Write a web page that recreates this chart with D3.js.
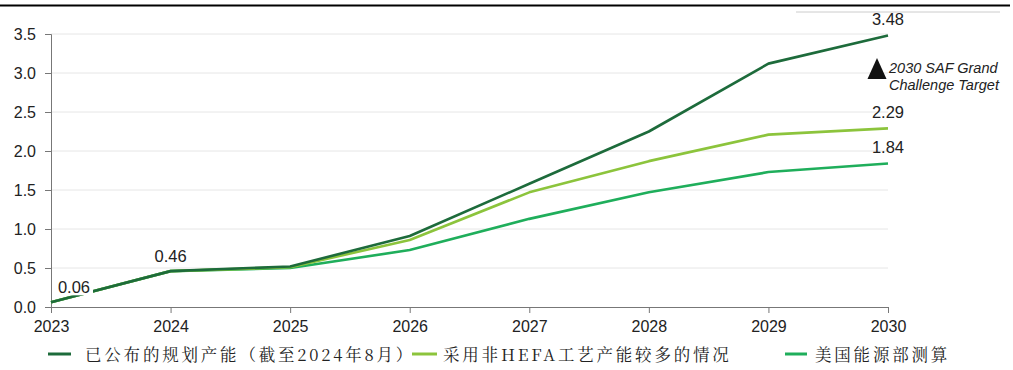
<!DOCTYPE html>
<html>
<head>
<meta charset="utf-8">
<script src="https://cdn.jsdelivr.net/npm/d3@7"></script>
<style>
  html, body { margin: 0; padding: 0; background: #fff; }
  svg { display: block; }
</style>
</head>
<body>
<svg id="chart" width="1013" height="370"></svg>
<script>
// Years on the x axis
const years = [2023, 2024, 2025, 2026, 2027, 2028, 2029, 2030];
// Announced planned capacity (as of Aug 2024)
const announced = [0.06, 0.46, 0.52, 0.91, 1.58, 2.25, 3.12, 3.48];
// Scenario with more non-HEFA process capacity
const nonHefa = [0.06, 0.46, 0.51, 0.86, 1.47, 1.87, 2.21, 2.29];
// US Department of Energy estimate
const doe = [0.06, 0.46, 0.50, 0.73, 1.13, 1.47, 1.73, 1.84];
const yTicks = [0.0, 0.5, 1.0, 1.5, 2.0, 2.5, 3.0, 3.5];
const seriesNames = ["已公布的规划产能（截至2024年8月）", "采用非HEFA工艺产能较多的情况", "美国能源部测算"];
const seriesColors = ["#1d6b3b", "#8cc43c", "#1fae5b"];
const seriesData = [announced, nonHefa, doe];

const svg = d3.select("#chart");
const plotL = 51, plotR = 888, plotT = 34, plotB = 307;

const x = d3.scaleLinear().domain([2023, 2030]).range([plotL, plotR]);
const y = d3.scaleLinear().domain([0, 3.5]).range([plotB, plotT]);

// top rule
svg.append("line").attr("x1", 0).attr("x2", 1010).attr("y1", 5.5).attr("y2", 5.5)
  .attr("stroke", "#000").attr("stroke-width", 2);
svg.append("line").attr("x1", 796).attr("x2", 1000).attr("y1", 12).attr("y2", 12)
  .attr("stroke", "#ccc").attr("stroke-width", 1);

// horizontal gridlines
svg.append("g").selectAll("line").data(yTicks.filter(d => d > 0)).join("line")
  .attr("x1", plotL).attr("x2", plotR)
  .attr("y1", d => y(d)).attr("y2", d => y(d))
  .attr("stroke", "#e6e6e6").attr("stroke-width", 1);

const tickFont = "Liberation Sans, Arial, sans-serif";

// y axis
const yAxis = svg.append("g").attr("transform", `translate(${plotL},0)`)
  .call(d3.axisLeft(y).tickValues(yTicks).tickFormat(d3.format(".1f")).tickSize(6).tickPadding(9));
yAxis.select(".domain").attr("stroke", "#777");
yAxis.selectAll(".tick line").attr("stroke", "#777");
yAxis.selectAll("text").attr("font-family", tickFont)
  .attr("font-size", 16).attr("fill", "#222");

// x axis
const xAxis = svg.append("g").attr("transform", `translate(0,${plotB})`)
  .call(d3.axisBottom(x).tickValues(years).tickFormat(d3.format("d")).tickSize(6).tickPadding(8));
xAxis.select(".domain").attr("stroke", "#777");
xAxis.selectAll(".tick line").attr("stroke", "#777");
xAxis.selectAll("text").attr("font-family", tickFont)
  .attr("font-size", 16).attr("fill", "#222");

// series lines (drawn back to front so the dark line sits above)
const line = d3.line().x((d, i) => x(years[i])).y(d => y(d));
[2, 1, 0].forEach(k => {
  svg.append("path").datum(seriesData[k])
    .attr("d", line).attr("fill", "none")
    .attr("stroke", seriesColors[k]).attr("stroke-width", 2.6)
    .attr("stroke-linejoin", "round");
});

// value labels
const valueLabels = [
  { year: 2023, v: doe[0], dx: 23, dy: -9, box: true },
  { year: 2024, v: announced[1], dx: 0, dy: -9 },
  { year: 2030, v: announced[7], dx: 0, dy: -10.5 },
  { year: 2030, v: nonHefa[7], dx: 0, dy: -10.5 },
  { year: 2030, v: doe[7], dx: 0, dy: -10.5 }
];
valueLabels.forEach(l => {
  const cx = x(l.year) + l.dx, cy = y(l.v) + l.dy;
  if (l.box) {
    svg.append("rect").attr("x", cx - 18).attr("y", cy - 14).attr("width", 37).attr("height", 16)
      .attr("fill", "#fff");
  }
  svg.append("text").attr("x", cx).attr("y", cy).attr("text-anchor", "middle")
    .attr("font-family", tickFont).attr("font-size", 16.5).attr("fill", "#222")
    .text(l.v.toFixed(2));
});

// target marker
const tx = x(2030) - 11, ty = 79;
svg.append("path")
  .attr("d", `M${tx},${ty - 21}L${tx + 9.5},${ty}L${tx - 9.5},${ty}Z`)
  .attr("fill", "#111");
const tgt = svg.append("text").attr("font-family", tickFont).attr("font-size", 14.5)
  .attr("font-style", "italic").attr("fill", "#222");
tgt.append("tspan").attr("x", tx + 12).attr("y", 72.7).text("2030 SAF Grand");
tgt.append("tspan").attr("x", tx + 12).attr("y", 89.5).text("Challenge Target");

// legend
const legendX = [48, 412, 785];
const legendLen = [23, 25, 22];
const legendTextX = [85, 443, 815];
const lg = svg.append("g");
seriesNames.forEach((name, i) => {
  lg.append("line").attr("x1", legendX[i]).attr("x2", legendX[i] + legendLen[i])
    .attr("y1", 354).attr("y2", 354)
    .attr("stroke", seriesColors[i]).attr("stroke-width", 3);
  lg.append("text").attr("x", legendTextX[i]).attr("y", 360.5)
    .attr("font-family", "Noto Serif CJK SC, Noto Sans CJK SC, serif")
    .attr("font-size", 16.5).attr("letter-spacing", 2.8).attr("fill", "#222")
    .text(name);
});
</script>
</body>
</html>
